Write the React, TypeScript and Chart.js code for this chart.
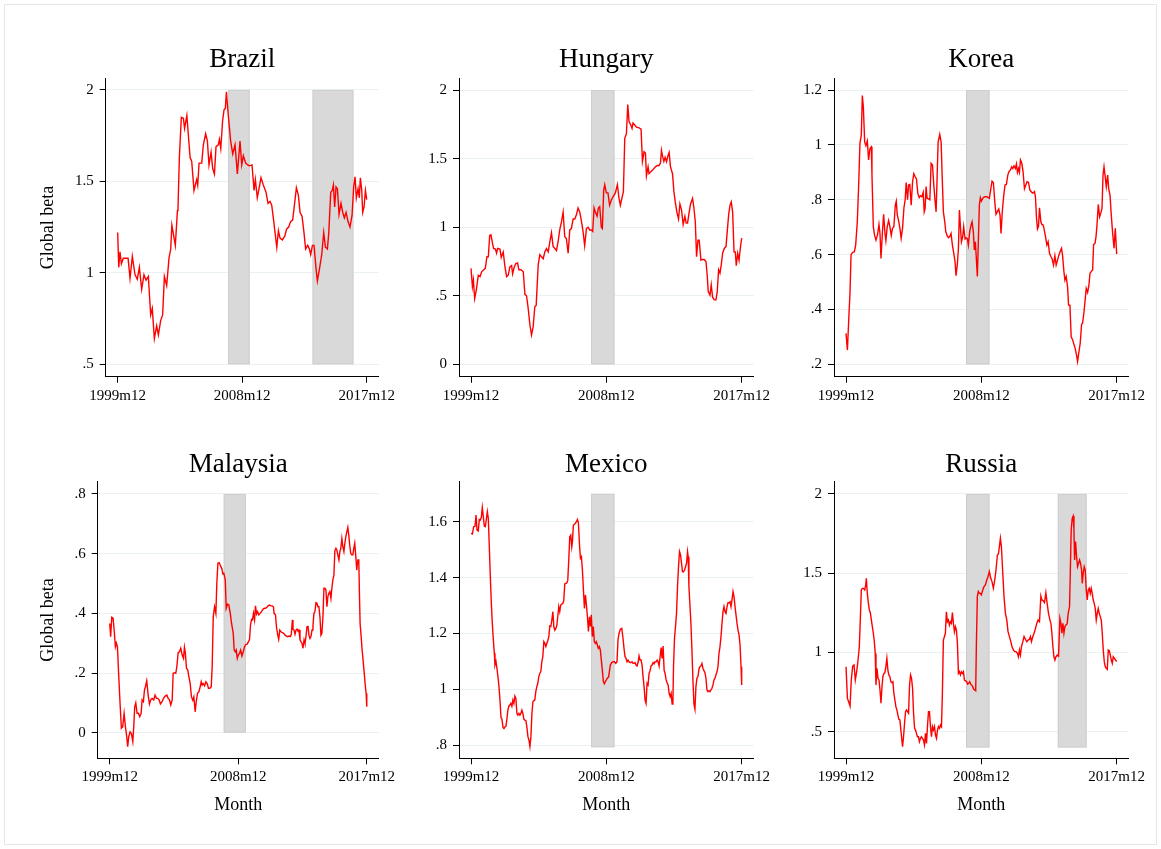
import React, { useEffect, useRef } from "react";
import { Chart, registerables } from "chart.js";

Chart.register(...registerables);

const SERIF = "'Liberation Serif', 'Times New Roman', Times, serif";

// ---- x axis: months counted from 1999m12 ----
const xTickValues = [0, 108, 216];
const xTickLabels = ["1999m12", "2008m12", "2017m12"];

// ---- y ticks per country ----
const brazilTicks = [0.5, 1, 1.5, 2];
const hungaryTicks = [0, 0.5, 1, 1.5, 2];
const koreaTicks = [0.2, 0.4, 0.6, 0.8, 1, 1.2];
const malaysiaTicks = [0, 0.2, 0.4, 0.6, 0.8];
const mexicoTicks = [0.8, 1, 1.2, 1.4, 1.6];
const russiaTicks = [0.5, 1, 1.5, 2];

// ---- recession periods (month index start, end) ----
const globalCrisis = [95.8, 114.5];
const brazilRecession = [169, 204.5];
const russiaRecession = [169, 192];

// ---- series: [month index, global beta] ----
const brazil: [number, number][] = [[0,1.22],[0.9,1.03],[2,1.115],[3.2,1.05],[4.9,1.08],[7.2,1.08],[9,1.08],[10.7,0.97],[12.7,1.09],[15,0.99],[17,0.965],[18.8,1.03],[20.8,0.91],[22.8,0.99],[24.6,0.96],[26.6,0.98],[28.6,0.77],[30,0.805],[31.8,0.64],[33.8,0.71],[35.3,0.66],[37.3,0.74],[39,0.77],[40.5,0.98],[42.5,0.93],[44.5,1.08],[46,1.13],[47,1.26],[50,1.15],[51.8,1.34],[52.3,1.35],[53.5,1.63],[55.2,1.85],[57,1.845],[58,1.79],[60,1.86],[62.8,1.63],[64.2,1.61],[66.2,1.45],[68.5,1.51],[69.4,1.48],[70.6,1.6],[72.9,1.6],[74.3,1.7],[76.3,1.76],[77.8,1.72],[79.2,1.59],[81,1.66],[82.4,1.57],[83.9,1.54],[85.3,1.69],[87.3,1.7],[88.2,1.73],[89.4,1.68],[91,1.83],[92.2,1.89],[93.4,1.9],[94.3,1.99],[95.4,1.9],[98,1.72],[99.8,1.65],[101.8,1.7],[103.8,1.54],[106.1,1.72],[107.6,1.59],[109,1.64],[111,1.6],[112.8,1.59],[114.2,1.585],[116.5,1.59],[118.3,1.45],[119.4,1.51],[121.1,1.41],[122.6,1.46],[124.3,1.52],[126.3,1.48],[128.7,1.44],[130.4,1.38],[132.1,1.39],[133.6,1.37],[135,1.3],[136.5,1.22],[138,1.14],[139.4,1.23],[140.8,1.19],[142.8,1.18],[144.9,1.2],[146.6,1.24],[148.3,1.25],[150,1.28],[151.8,1.29],[153.3,1.37],[155,1.465],[156.7,1.425],[158.2,1.33],[159.9,1.31],[161.6,1.22],[163,1.13],[164.8,1.15],[166.3,1.13],[167.4,1.1],[168.9,1.15],[170.3,1.15],[172.1,1.02],[173.2,0.955],[175,1.02],[177,1.1],[178.7,1.22],[180.2,1.14],[181.9,1.13],[183.1,1.22],[184.8,1.44],[186.1,1.45],[187.1,1.48],[188.2,1.36],[189.4,1.47],[190.6,1.46],[192,1.32],[193.7,1.38],[195.2,1.33],[196.6,1.3],[198.1,1.33],[199.8,1.28],[201.5,1.25],[203.3,1.315],[204.7,1.47],[205.9,1.525],[207,1.41],[208.5,1.46],[209.6,1.41],[210.5,1.52],[211.7,1.45],[212.5,1.33],[213.7,1.36],[214.9,1.45],[216,1.4]];

const hungary: [number, number][] = [[0,0.7],[1.1,0.566],[1.9,0.615],[2.9,0.48],[4.2,0.542],[5.8,0.65],[7.2,0.64],[8.5,0.675],[10.1,0.69],[11.4,0.7],[12.7,0.785],[13.8,0.785],[14.9,0.94],[15.9,0.945],[17,0.89],[18,0.845],[19.4,0.84],[20.4,0.81],[21.2,0.845],[23.1,0.84],[24.1,0.78],[25.7,0.82],[27.1,0.71],[28.4,0.64],[29.7,0.65],[31,0.71],[32.4,0.72],[33.2,0.66],[34.5,0.71],[35.8,0.735],[37.1,0.74],[38.2,0.69],[39.8,0.69],[41.7,0.675],[43,0.51],[44.3,0.5],[45.6,0.41],[47,0.287],[48.3,0.214],[49.6,0.275],[50.9,0.42],[52,0.43],[53.6,0.724],[54.9,0.8],[56.2,0.785],[57.6,0.77],[58.9,0.82],[60.2,0.845],[61.6,0.82],[62.9,0.894],[64.2,0.96],[65.5,0.86],[66.9,0.845],[68.2,0.83],[69.5,0.894],[70.8,0.98],[72.2,1.04],[73.5,1.11],[74.8,0.93],[76.1,0.918],[77.5,0.81],[78.8,0.98],[80.1,0.99],[81.5,1.06],[82.8,1.06],[84.1,1.09],[85.4,1.14],[86.8,1.11],[88.1,1.045],[89.4,0.97],[90.7,0.865],[92.1,0.99],[93.4,1],[94.7,0.98],[96,0.98],[97.1,0.97],[98.2,1.14],[99.2,1.11],[100.6,1.08],[101.6,1.14],[102.7,1.15],[104,1],[104.8,0.99],[105.9,1.27],[106.7,1.31],[108,1.25],[109.3,1.25],[110.6,1.16],[112,1.198],[113.3,1.222],[115.2,1.25],[116.8,1.31],[118.1,1.21],[119.2,1.16],[120.5,1.215],[121.6,1.26],[122.7,1.65],[124,1.68],[125.1,1.895],[126.1,1.77],[127.5,1.745],[128.5,1.72],[129.3,1.76],[130.7,1.745],[132,1.73],[134.1,1.725],[135.7,1.715],[136.8,1.48],[138.1,1.55],[139.2,1.54],[140,1.375],[141.3,1.44],[142.1,1.39],[143.5,1.405],[145.3,1.42],[147.2,1.44],[148.8,1.45],[150.1,1.45],[151.2,1.47],[152,1.56],[152.8,1.52],[153.9,1.48],[154.9,1.51],[156,1.478],[157.3,1.525],[158.1,1.545],[159.2,1.44],[160.8,1.39],[161.9,1.26],[162.9,1.19],[164.3,1.11],[165.6,1.06],[166.7,1.17],[168,1.125],[169.3,1.02],[170.7,1.08],[171.7,1.03],[172.8,1.03],[174.1,1.11],[175.2,1.17],[176.8,1.21],[177.9,1.14],[179,1.04],[180,0.785],[181.1,0.906],[182.1,0.906],[183.5,0.76],[184.8,0.765],[186.1,0.765],[187.5,0.75],[188.5,0.65],[189.3,0.53],[190.7,0.505],[191.7,0.58],[192.8,0.49],[194.1,0.47],[195.5,0.47],[196.5,0.53],[197.6,0.69],[198.7,0.665],[199.7,0.725],[200.8,0.81],[202.1,0.845],[203.5,0.86],[204.5,0.97],[205.6,1.09],[206.7,1.16],[207.7,1.185],[208.8,1.11],[209.9,0.82],[210.9,0.82],[211.7,0.72],[212.8,0.81],[213.9,0.76],[214.9,0.845],[216,0.92]];

const korea: [number, number][] = [[0,0.313],[1.1,0.252],[2.1,0.356],[3.2,0.465],[4,0.6],[5.3,0.608],[6.6,0.61],[7.7,0.635],[9,0.72],[10.1,0.854],[11.1,1.006],[12.2,1.036],[13,1.18],[13.8,1.14],[14.9,1.01],[15.9,0.997],[17,1.014],[18,0.945],[19.1,0.987],[20.2,0.993],[20.7,0.89],[21.8,0.7],[22.8,0.67],[23.9,0.653],[25.2,0.674],[26.3,0.71],[27.1,0.677],[27.9,0.586],[29,0.677],[30,0.747],[31.1,0.677],[31.8,0.651],[32.9,0.702],[34,0.724],[35,0.702],[36.1,0.67],[37.1,0.696],[38.2,0.702],[39.3,0.78],[40.1,0.795],[40.9,0.745],[41.9,0.726],[43,0.696],[44,0.66],[45.1,0.696],[46.2,0.77],[47.2,0.8],[48,0.863],[49.1,0.8],[49.9,0.854],[50.9,0.856],[52,0.78],[53.1,0.865],[54.1,0.895],[55.2,0.884],[56.2,0.876],[57.3,0.823],[58.4,0.808],[59.4,0.815],[60.5,0.811],[61.6,0.827],[62.4,0.756],[63.1,0.768],[63.9,0.848],[64.7,0.805],[65.8,0.803],[66.9,0.8],[67.9,0.933],[69,0.927],[70,0.856],[71.1,0.793],[71.9,0.756],[72.7,0.884],[73.5,1.01],[74.8,1.038],[75.9,1.01],[76.7,0.89],[77.7,0.756],[78.8,0.72],[79.6,0.684],[80.7,0.669],[81.7,0.662],[82.8,0.666],[83.8,0.677],[84.9,0.635],[86,0.605],[87,0.574],[87.8,0.523],[88.9,0.568],[89.7,0.623],[90.5,0.763],[91.3,0.702],[92.1,0.647],[93.1,0.665],[93.9,0.702],[95,0.657],[95.8,0.661],[96.8,0.659],[97.6,0.635],[98.7,0.684],[99.8,0.708],[100.6,0.72],[101.6,0.684],[102.4,0.617],[103.2,0.647],[104,0.586],[104.8,0.52],[105.6,0.647],[106.4,0.78],[107.2,0.807],[108,0.795],[109.3,0.807],[110.6,0.811],[112.3,0.811],[114.4,0.805],[116.5,0.868],[117.6,0.863],[118.7,0.793],[119.7,0.747],[120.8,0.757],[121.9,0.766],[122.9,0.744],[123.7,0.677],[124.8,0.762],[125.9,0.817],[126.9,0.854],[128,0.856],[129.1,0.89],[130.1,0.903],[131.2,0.909],[132.3,0.92],[133.1,0.914],[134.1,0.924],[135.2,0.914],[136,0.93],[136.8,0.9],[137.6,0.914],[138.4,0.9],[139.2,0.945],[140.3,0.933],[141.3,0.902],[142.4,0.84],[143.5,0.854],[144.5,0.866],[145.6,0.864],[146.7,0.836],[147.7,0.83],[148.8,0.824],[149.6,0.826],[150.4,0.83],[151.2,0.81],[152,0.735],[152.8,0.693],[153.6,0.702],[154.4,0.771],[155.5,0.72],[156.3,0.71],[157.3,0.708],[158.1,0.693],[159.2,0.666],[160.3,0.635],[161.3,0.647],[162.4,0.605],[163.5,0.593],[164.5,0.584],[165.6,0.562],[166.7,0.596],[167.7,0.562],[168.8,0.58],[169.9,0.598],[170.9,0.611],[172,0.623],[172.8,0.598],[173.9,0.538],[174.7,0.507],[175.7,0.52],[176.8,0.483],[177.6,0.416],[178.7,0.416],[179.7,0.3],[180.8,0.29],[181.9,0.273],[182.9,0.258],[184,0.233],[184.8,0.21],[185.9,0.246],[186.9,0.277],[188,0.346],[188.8,0.35],[189.9,0.39],[190.9,0.438],[191.7,0.477],[192.8,0.462],[193.9,0.49],[194.7,0.532],[195.7,0.538],[196.8,0.544],[197.6,0.637],[198.7,0.641],[199.5,0.665],[200.3,0.708],[201.3,0.783],[202.4,0.738],[203.5,0.754],[204.3,0.769],[205.1,0.89],[205.9,0.92],[206.7,0.89],[207.7,0.848],[208.8,0.89],[209.6,0.841],[210.7,0.817],[211.7,0.744],[212.8,0.677],[213.9,0.623],[214.9,0.696],[216,0.602]];

const malaysia: [number, number][] = [[0,0.366],[0.8,0.322],[1.7,0.387],[2.8,0.384],[3.6,0.35],[4.8,0.288],[5.6,0.3],[6.5,0.288],[7.6,0.188],[8.7,0.098],[9.8,0.015],[10.9,0.02],[12.1,0.065],[13.2,0.02],[14.3,-0.013],[15.1,-0.047],[16,-0.013],[17.1,0.003],[18.2,-0.003],[19.4,-0.03],[20.2,0.02],[21,0.087],[21.9,0.1],[23,0.065],[24.1,0.065],[25.2,0.054],[26.4,0.065],[27.2,0.11],[28.3,0.104],[29.2,0.143],[30,0.154],[31.1,0.174],[32.3,0.126],[33.4,0.096],[34.5,0.11],[35.6,0.115],[37,0.11],[38.1,0.126],[39.3,0.115],[40.4,0.115],[41.5,0.11],[42.6,0.096],[44,0.104],[45.2,0.115],[46.6,0.123],[48,0.126],[49.1,0.115],[50.2,0.11],[51.3,0.093],[52.5,0.11],[53.3,0.199],[54.4,0.201],[55.5,0.199],[56.4,0.221],[57.5,0.268],[58.6,0.271],[59.7,0.283],[60.9,0.26],[62,0.249],[62.8,0.286],[63.6,0.266],[64.5,0.216],[65.6,0.21],[66.5,0.188],[67.6,0.165],[68.7,0.12],[69.8,0.109],[70.7,0.12],[71.8,0.07],[72.7,0.104],[73.8,0.132],[74.9,0.137],[76,0.154],[76.9,0.171],[77.7,0.16],[78.5,0.165],[79.7,0.157],[80.8,0.171],[81.9,0.165],[83,0.149],[84.2,0.149],[85.3,0.154],[86.1,0.221],[87,0.389],[88.1,0.422],[89.2,0.4],[90,0.5],[90.9,0.568],[92,0.57],[93.1,0.559],[94.2,0.55],[95.1,0.532],[95.9,0.534],[97.1,0.512],[97.9,0.417],[99,0.431],[100.1,0.428],[101.3,0.4],[102.4,0.366],[103.8,0.333],[104.6,0.277],[105.5,0.271],[106.3,0.277],[107.2,0.249],[108,0.26],[109.1,0.266],[110,0.277],[111.1,0.257],[112.2,0.271],[113.3,0.288],[114.4,0.296],[115.5,0.297],[116.6,0.305],[117.5,0.313],[118.3,0.361],[119.2,0.38],[120,0.378],[120.8,0.4],[121.7,0.378],[122.5,0.425],[123.4,0.398],[124.2,0.406],[125.3,0.395],[126.4,0.4],[127.5,0.406],[128.7,0.413],[129.8,0.417],[130.9,0.417],[132,0.42],[133.1,0.425],[134.2,0.428],[135.4,0.425],[136.5,0.425],[137.6,0.422],[138.1,0.4],[139.3,0.395],[140.1,0.355],[141.2,0.327],[142,0.313],[142.9,0.344],[144,0.338],[145.1,0.335],[146.2,0.333],[147.4,0.327],[148.5,0.324],[149.6,0.322],[150.7,0.324],[151.8,0.322],[152.6,0.33],[153.5,0.378],[154,0.347],[154.9,0.344],[155.7,0.33],[156.6,0.344],[157.4,0.347],[158.2,0.342],[159.1,0.344],[159.9,0.311],[160.7,0.305],[161.6,0.299],[162.4,0.283],[163.3,0.311],[164.1,0.299],[164.9,0.322],[165.8,0.355],[166.6,0.358],[167.4,0.327],[168.3,0.316],[169.1,0.322],[170,0.344],[170.8,0.358],[171.6,0.4],[172.5,0.406],[173.3,0.436],[174.1,0.434],[175,0.422],[175.8,0.422],[176.7,0.386],[177.5,0.327],[178.3,0.333],[179.2,0.389],[180,0.484],[180.8,0.484],[181.7,0.478],[182.5,0.422],[183.4,0.458],[184.2,0.467],[185,0.473],[185.9,0.45],[186.7,0.484],[187.5,0.512],[188.4,0.528],[189.2,0.61],[190.1,0.618],[190.9,0.612],[191.7,0.596],[192.6,0.579],[193.4,0.607],[194.2,0.618],[195.1,0.651],[195.9,0.624],[196.8,0.607],[197.6,0.635],[198.4,0.657],[199.3,0.674],[200.1,0.688],[200.9,0.662],[201.8,0.624],[202.6,0.6],[203.4,0.596],[204.3,0.596],[205.1,0.618],[205.9,0.635],[206.8,0.59],[207.6,0.545],[208.5,0.579],[209.3,0.579],[209.9,0.456],[210.4,0.366],[211.3,0.322],[212.1,0.277],[212.9,0.243],[213.8,0.204],[214.6,0.165],[215.5,0.131],[216,0.087]];

const mexico: [number, number][] = [[0,1.558],[1.1,1.556],[2.1,1.582],[3.2,1.584],[4,1.624],[4.8,1.57],[5.8,1.567],[6.6,1.608],[7.4,1.606],[8.2,1.615],[9,1.651],[9.8,1.618],[10.6,1.584],[11.4,1.582],[12.2,1.608],[13,1.636],[13.8,1.612],[14.6,1.51],[15.4,1.403],[16.2,1.308],[17,1.236],[17.8,1.177],[18.6,1.129],[19.1,1.087],[19.9,1.1],[20.7,1.075],[21.5,1.045],[22.3,1.01],[23.1,0.962],[23.9,0.9],[24.7,0.893],[25.5,0.864],[26.3,0.86],[27.1,0.866],[27.9,0.869],[28.7,0.896],[29.4,0.926],[30.2,0.94],[31,0.944],[31.8,0.95],[32.6,0.94],[33.4,0.962],[34.2,0.95],[35,0.976],[35.8,0.968],[36.6,0.914],[37.4,0.908],[38.2,0.914],[39,0.908],[39.8,0.914],[40.6,0.926],[41.4,0.914],[42.2,0.893],[43,0.89],[43.8,0.888],[44.6,0.864],[45.4,0.831],[46.2,0.819],[47,0.795],[47.8,0.831],[48.6,0.914],[49.4,0.956],[50.2,0.96],[50.9,0.962],[51.7,0.992],[52.5,1.01],[53.3,1.022],[54.1,1.046],[54.9,1.058],[55.7,1.063],[56.5,1.099],[57.3,1.117],[58.1,1.171],[58.9,1.165],[59.7,1.153],[60.5,1.165],[61.3,1.175],[62.1,1.189],[62.9,1.227],[63.7,1.225],[64.5,1.248],[65.3,1.278],[66.1,1.224],[66.9,1.212],[67.7,1.218],[68.5,1.23],[69.2,1.26],[70,1.296],[70.8,1.278],[71.6,1.302],[72.4,1.305],[73.2,1.307],[74,1.317],[74.8,1.377],[75.6,1.379],[76.4,1.381],[77.2,1.39],[78,1.463],[78.8,1.546],[79.6,1.552],[80.4,1.51],[80.9,1.528],[81.7,1.588],[82.5,1.591],[83.3,1.594],[84.1,1.6],[84.9,1.608],[85.7,1.596],[86.5,1.523],[87.3,1.469],[88.1,1.475],[88.9,1.427],[89.7,1.356],[90.5,1.29],[91.3,1.338],[92.1,1.302],[92.9,1.26],[93.7,1.207],[94.5,1.26],[95.3,1.225],[96,1.267],[96.8,1.189],[97.6,1.225],[98.4,1.171],[99.2,1.165],[100,1.171],[100.8,1.159],[101.6,1.147],[102.4,1.153],[103.2,1.141],[104,1.105],[104.8,1.069],[105.6,1.028],[106.4,1.02],[107.2,1.028],[108,1.034],[108.8,1.04],[109.8,1.045],[110.6,1.069],[111.2,1.087],[112.3,1.096],[113.3,1.099],[114.4,1.099],[115.5,1.093],[116.5,1.099],[117.3,1.177],[118.1,1.2],[119.2,1.215],[120.3,1.218],[121.3,1.183],[122.1,1.147],[122.9,1.117],[123.7,1.111],[124.5,1.099],[125.3,1.105],[126.1,1.099],[126.9,1.096],[127.7,1.096],[128.5,1.099],[129.3,1.093],[130.1,1.093],[130.9,1.096],[131.7,1.087],[132.5,1.084],[133.3,1.096],[134.1,1.12],[134.9,1.105],[135.7,1.105],[136.5,1.087],[137.3,1.045],[138.1,1.01],[138.9,0.962],[139.7,0.95],[140.5,1.022],[141.3,1.016],[142.1,1.057],[142.9,1.067],[143.7,1.084],[144.5,1.087],[145.3,1.096],[146.1,1.091],[146.9,1.099],[147.7,1.099],[148.5,1.105],[149.3,1.099],[150.1,1.084],[150.9,1.117],[151.7,1.15],[152.5,1.111],[153.3,1.155],[154.1,1.069],[154.9,1.057],[155.7,1.034],[156.5,1.024],[157.3,1.016],[158.1,0.986],[158.9,0.974],[159.7,0.986],[160.5,0.948],[161.1,0.95],[161.6,1.081],[162.4,1.183],[163.2,1.225],[164,1.272],[164.8,1.368],[165.6,1.44],[166.4,1.493],[167.2,1.481],[168,1.451],[168.8,1.421],[169.6,1.421],[170.4,1.427],[171.2,1.439],[172,1.451],[172.8,1.493],[173.3,1.475],[173.9,1.368],[174.7,1.302],[175.5,1.236],[176.3,1.141],[177.1,1.034],[177.9,0.948],[178.7,0.929],[179.5,1.01],[180.3,1.04],[181.1,1.046],[181.9,1.072],[182.7,1.081],[183.5,1.084],[184.3,1.093],[185.1,1.075],[185.9,1.067],[186.7,1.06],[187.5,1.04],[188.3,0.998],[189.1,0.992],[189.9,0.995],[190.7,0.992],[191.5,0.998],[192.3,1.004],[193.1,1.016],[193.9,1.034],[194.7,1.04],[195.5,1.052],[196.3,1.063],[197.1,1.081],[197.9,1.129],[198.7,1.153],[199.5,1.189],[200.3,1.236],[201.1,1.278],[201.9,1.296],[202.7,1.278],[203.5,1.272],[204.3,1.296],[205.1,1.31],[205.9,1.31],[206.7,1.314],[207.5,1.296],[208.3,1.32],[209.1,1.35],[209.9,1.332],[210.7,1.296],[211.5,1.266],[212.3,1.236],[213.1,1.212],[213.9,1.195],[214.7,1.159],[215.5,1.081],[216,1.016]];

const russia: [number, number][] = [[0,0.91],[1.1,0.71],[2.1,0.689],[3.2,0.662],[4.2,0.826],[5.3,0.914],[6.4,0.921],[7.4,0.826],[8.5,0.879],[9.6,0.952],[10.6,1.036],[11.4,1.205],[12.2,1.394],[13,1.404],[13.8,1.404],[14.9,1.394],[15.7,1.425],[16.2,1.468],[17,1.373],[17.8,1.314],[18.6,1.268],[19.4,1.251],[20.2,1.205],[21,1.163],[21.8,1.121],[22.6,1.068],[23.3,0.994],[23.9,0.794],[24.7,0.9],[25.5,0.837],[26.3,0.826],[27.1,0.763],[27.9,0.679],[28.7,0.784],[29.4,0.847],[30.2,0.868],[31,0.872],[31.8,0.91],[32.6,0.963],[33.4,0.889],[34.2,0.858],[35,0.847],[35.8,0.815],[36.6,0.809],[37.4,0.815],[38.2,0.742],[39,0.7],[39.8,0.658],[40.6,0.637],[41.4,0.605],[42.2,0.578],[43,0.574],[43.5,0.532],[44.3,0.468],[45.1,0.405],[45.9,0.468],[46.7,0.553],[47.5,0.626],[48.3,0.637],[49.1,0.626],[49.9,0.616],[50.7,0.794],[51.5,0.858],[52.3,0.837],[53.1,0.773],[53.9,0.616],[54.7,0.521],[55.5,0.51],[56.2,0.489],[57,0.468],[57.8,0.468],[58.6,0.437],[59.4,0.458],[60.2,0.468],[61,0.458],[61.8,0.447],[62.6,0.416],[63.4,0.489],[64.2,0.426],[65,0.532],[65.8,0.626],[66.6,0.626],[67.4,0.532],[68.2,0.468],[69,0.532],[69.8,0.51],[70.6,0.532],[71.4,0.479],[72.2,0.458],[73,0.51],[73.8,0.532],[74.6,0.521],[75.4,0.542],[76.2,0.532],[76.9,0.742],[77.7,1.078],[78.5,1.099],[79.3,1.121],[80.1,1.257],[80.9,1.194],[81.7,1.205],[82.5,1.173],[83.3,1.194],[84.1,1.184],[84.9,1.251],[85.7,1.184],[86.5,1.131],[87.3,1.163],[88.1,1.142],[88.9,1.057],[89.7,0.868],[90.5,0.879],[91.3,0.858],[92.1,0.878],[92.9,0.868],[93.7,0.879],[94.5,0.826],[95.5,0.821],[96.3,0.815],[97.1,0.8],[97.9,0.805],[98.7,0.815],[99.5,0.8],[100.3,0.794],[101.1,0.784],[101.9,0.767],[102.7,0.763],[103.5,0.758],[104,1.036],[104.8,1.352],[105.6,1.384],[106.4,1.373],[107.2,1.373],[108,1.363],[109.1,1.394],[110.1,1.415],[111.2,1.426],[112.3,1.457],[113.3,1.478],[114.4,1.51],[115.5,1.468],[116.5,1.447],[117.6,1.405],[118.7,1.457],[119.7,1.52],[120.8,1.615],[121.6,1.621],[122.4,1.668],[123.2,1.72],[124,1.668],[125.1,1.5],[126.1,1.352],[127.2,1.247],[128.3,1.205],[129.3,1.131],[130.4,1.1],[131.5,1.068],[132.5,1.036],[133.6,1.015],[134.7,1.005],[135.7,1.005],[136.8,0.994],[137.6,0.973],[138.4,1.015],[139.2,0.984],[140,1.036],[141.1,1.068],[142.1,1.1],[143.2,1.083],[144.3,1.068],[145.3,1.078],[146.4,1.083],[147.2,1.1],[148,1.068],[149.1,1.1],[150.1,1.121],[151.2,1.152],[152.3,1.184],[153.3,1.205],[154.4,1.194],[155.5,1.356],[156.3,1.331],[157.3,1.327],[158.4,1.314],[159.5,1.377],[160.5,1.31],[161.6,1.247],[162.7,1.205],[163.5,1.184],[164.3,1.121],[165.1,1.036],[165.9,0.973],[166.7,0.952],[167.5,0.973],[168.5,0.984],[169.6,0.977],[170.7,1.215],[171.5,1.184],[172.3,1.121],[173.1,1.184],[173.9,1.121],[174.7,1.163],[175.5,1.173],[176.5,1.18],[177.3,1.247],[178.4,1.289],[179.2,1.583],[179.7,1.773],[180.5,1.846],[181.3,1.861],[181.9,1.773],[182.4,1.583],[183.2,1.699],[184,1.604],[184.8,1.541],[185.6,1.562],[186.4,1.583],[187.2,1.562],[188,1.52],[188.5,1.436],[189.3,1.499],[190.1,1.541],[190.9,1.52],[191.7,1.394],[192.5,1.331],[193.3,1.394],[194.1,1.405],[194.9,1.373],[195.7,1.405],[196.5,1.373],[197.3,1.331],[198.1,1.31],[198.9,1.278],[199.7,1.205],[200.5,1.247],[201.3,1.278],[202.1,1.247],[202.9,1.226],[203.7,1.205],[204.5,1.121],[205.3,1.015],[206.1,0.942],[206.9,0.91],[207.7,0.9],[208.5,0.893],[209.3,1.015],[210.1,1.011],[210.9,0.984],[211.7,0.952],[212.5,0.931],[213.3,0.973],[214.1,0.963],[215.2,0.952],[216,0.942]];

type Panel = {
  title: string;
  series: [number, number][];
  yTicks: number[];
  yRange: [number, number];
  xRange: [number, number];
  shades: number[][];
  shadeRange: [number, number];
  yTitle: boolean;
  xTitle: boolean;
};

const PANELS: Panel[] = [
  { title: "Brazil", series: brazil, yTicks: brazilTicks, yRange: [0.432, 2.063], xRange: [-10.4, 226.4], shades: [globalCrisis, brazilRecession], shadeRange: [0.5, 2], yTitle: true, xTitle: false },
  { title: "Hungary", series: hungary, yTicks: hungaryTicks, yRange: [-0.09, 2.085], xRange: [-9.6, 225.6], shades: [globalCrisis], shadeRange: [0, 2], yTitle: false, xTitle: false },
  { title: "Korea", series: korea, yTicks: koreaTicks, yRange: [0.155, 1.2425], xRange: [-9.6, 225.6], shades: [globalCrisis], shadeRange: [0.2, 1.2], yTitle: false, xTitle: false },
  { title: "Malaysia", series: malaysia, yTicks: malaysiaTicks, yRange: [-0.0858, 0.8415], xRange: [-10.1, 226.1], shades: [globalCrisis], shadeRange: [0, 0.8], yTitle: true, xTitle: true },
  { title: "Mexico", series: mexico, yTicks: mexicoTicks, yRange: [0.7535, 1.7435], xRange: [-9.6, 225.6], shades: [globalCrisis], shadeRange: [0.793, 1.7], yTitle: false, xTitle: true },
  { title: "Russia", series: russia, yTicks: russiaTicks, yRange: [0.332, 2.078], xRange: [-9.6, 225.6], shades: [globalCrisis, russiaRecession], shadeRange: [0.4, 2], yTitle: false, xTitle: true },
];

// ---- page geometry (canvas boxes and plot rectangles) ----
type Box = { left: number; top: number; width: number; height: number; plotL: number; plotR: number; plotT: number; plotB: number; titlePadTop: number };
const ROW = [
  { top: 20, height: 400, plotT: 78.4, plotB: 376.7, titlePadTop: 26.9 },
  { top: 420, height: 429, plotT: 481.6, plotB: 758.3, titlePadTop: 31.4 },
];
const COL = [
  { left: 0, width: 400 },
  { left: 400, width: 375 },
  { left: 775, width: 386 },
];
const PLOT_X = [
  [105.7, 378.7],
  [459, 753.7],
  [834, 1128.7],
  [97.7, 379],
  [459, 753.7],
  [834, 1128.7],
];
const BOXES: Box[] = PLOT_X.map((px, i) => {
  const r = ROW[Math.floor(i / 3)];
  const c = COL[i % 3];
  return { left: c.left, width: c.width, top: r.top, height: r.height, plotL: px[0], plotR: px[1], plotT: r.plotT, plotB: r.plotB, titlePadTop: r.titlePadTop };
});

const TITLE_SIZE = 27;
const TICK_SIZE = 15;
const AXIS_TITLE_SIZE = 18;
const GRID = "rgb(234,241,243)";

function fmtTick(v: number): string {
  if (v === 0) return "0";
  const s = String(+v.toFixed(2));
  return s.startsWith("0.") ? s.slice(1) : s;
}

function PanelChart({ panel, box }: { panel: Panel; box: Box }) {
  const ref = useRef<HTMLCanvasElement | null>(null);
  useEffect(() => {
    const canvas = ref.current;
    if (!canvas) return;
    const yWidth = box.plotL - box.left;
    const padRight = box.left + box.width - box.plotR;
    const titleBox = box.plotT - box.top;
    const titlePadBottom = titleBox - box.titlePadTop - TITLE_SIZE;
    const xHeight = box.top + box.height - box.plotB;

    const shadePlugin = {
      id: "recessionShade",
      beforeDatasetsDraw(chart: any) {
        const { ctx, chartArea, scales } = chart;
        const x = scales.x;
        const y = scales.y;
        ctx.save();
        ctx.beginPath();
        ctx.rect(chartArea.left, chartArea.top, chartArea.right - chartArea.left, chartArea.bottom - chartArea.top);
        ctx.clip();
        for (const [a, b] of panel.shades) {
          const x0 = x.getPixelForValue(a);
          const x1 = x.getPixelForValue(b);
          const y0 = y.getPixelForValue(panel.shadeRange[1]);
          const y1 = y.getPixelForValue(panel.shadeRange[0]);
          ctx.fillStyle = "rgb(217,217,217)";
          ctx.fillRect(x0, y0, x1 - x0, y1 - y0);
          ctx.strokeStyle = "rgb(206,206,206)";
          ctx.lineWidth = 1;
          ctx.strokeRect(x0 + 0.5, y0 + 0.5, x1 - x0 - 1, y1 - y0 - 1);
        }
        ctx.restore();
      },
    };

    const tickFont = { family: SERIF, size: TICK_SIZE, lineHeight: 1.2 };
    const axisTitleFont = { family: SERIF, size: AXIS_TITLE_SIZE, lineHeight: 1 };

    const chart = new Chart(canvas, {
      type: "line",
      data: {
        datasets: [
          {
            data: panel.series.map(([m, b]) => ({ x: m, y: b })),
            borderColor: "#ff0000",
            borderWidth: 1.4,
            pointRadius: 0,
            tension: 0,
            fill: false,
          },
        ],
      },
      options: {
        animation: false,
        responsive: false,
        devicePixelRatio: 1,
        events: [],
        layout: { padding: { left: 0, top: 0, right: padRight, bottom: 0 } },
        plugins: {
          legend: { display: false },
          tooltip: { enabled: false },
          title: {
            display: true,
            text: panel.title,
            fullSize: false,
            color: "#000",
            font: { family: SERIF, size: TITLE_SIZE, weight: "normal", lineHeight: 1 },
            padding: { top: box.titlePadTop, bottom: titlePadBottom },
          },
        },
        scales: {
          x: {
            type: "linear",
            min: panel.xRange[0],
            max: panel.xRange[1],
            afterBuildTicks: (s: any) => {
              s.ticks = xTickValues.map((v) => ({ value: v }));
            },
            afterFit: (s: any) => {
              s.height = xHeight;
            },
            ticks: {
              autoSkip: false,
              maxRotation: 0,
              minRotation: 0,
              padding: 4,
              color: "#000",
              font: tickFont,
              callback: (v: any) => {
                const i = xTickValues.indexOf(Number(v));
                return i >= 0 ? xTickLabels[i] : "";
              },
            },
            grid: { drawOnChartArea: false, drawTicks: true, tickLength: 6, tickColor: "#000", tickWidth: 1 },
            border: { display: true, color: "#000", width: 1 },
            title: {
              display: panel.xTitle,
              text: "Month",
              color: "#000",
              font: axisTitleFont,
              padding: { top: 0, bottom: 35 },
            },
          },
          y: {
            type: "linear",
            min: panel.yRange[0],
            max: panel.yRange[1],
            afterBuildTicks: (s: any) => {
              s.ticks = panel.yTicks.map((v) => ({ value: v }));
            },
            afterFit: (s: any) => {
              s.width = yWidth;
            },
            ticks: {
              padding: 6,
              color: "#000",
              font: tickFont,
              callback: (v: any) => fmtTick(Number(v)),
            },
            grid: { color: GRID, lineWidth: 1, drawTicks: true, tickLength: 6, tickColor: "#000", tickWidth: 1 },
            border: { display: true, color: "#000", width: 1 },
            title: {
              display: panel.yTitle,
              text: "Global beta",
              color: "#000",
              font: axisTitleFont,
              padding: { top: 39.5, bottom: 0 },
            },
          },
        },
      },
      plugins: [shadePlugin],
    } as any);
    return () => chart.destroy();
  }, [panel, box]);

  return (
    <canvas
      ref={ref}
      width={box.width}
      height={box.height}
      style={{ position: "absolute", left: box.left, top: box.top, width: box.width, height: box.height }}
    />
  );
}

export default function App() {
  return (
    <div style={{ position: "absolute", left: 0, top: 0, width: 1161, height: 849, background: "#fff", overflow: "hidden" }}>
      <div style={{ position: "absolute", left: 4, top: 4, width: 1153, height: 841, border: "1px solid #e6e6e6", boxSizing: "border-box" }} />
      {PANELS.map((p, i) => (
        <PanelChart key={p.title} panel={p} box={BOXES[i]} />
      ))}
    </div>
  );
}
